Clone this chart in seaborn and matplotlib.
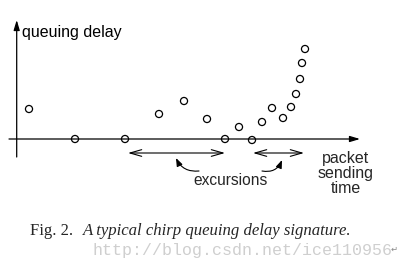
import matplotlib
matplotlib.use("Agg")
import matplotlib.pyplot as plt
import seaborn as sns
import pandas as pd

# Data (x: packet sending time, y: queuing delay) in arbitrary units
send_time = [29, 75, 125, 159, 184, 207, 225, 239, 252, 262, 272, 283, 291, 296, 300, 302, 305]
queue_delay = [30, 0, 0, 25, 38, 20, 0, 12, -1, 17, 31, 21, 32, 45, 60, 76, 90]

df = pd.DataFrame({"t": send_time, "d": queue_delay})

sns.set_theme(style="white")
plt.rcParams['font.family'] = ['Liberation Sans', 'DejaVu Sans']

fig = plt.figure(figsize=(4.05, 2.7), dpi=100)
ax = fig.add_axes([0, 0, 1, 1])
ax.set_xlim(0, 405)
ax.set_ylim(-131, 139)
ax.axis("off")

def Y(py):
    return 139 - py

# axes arrows
ax.annotate("", xy=(360, 0), xytext=(9, 0),
            arrowprops=dict(arrowstyle="-|>,head_length=0.5,head_width=0.15", color="black", lw=0.9,
                            shrinkA=0, shrinkB=0))
ax.annotate("", xy=(16.7, Y(20)), xytext=(16.7, Y(157)),
            arrowprops=dict(arrowstyle="-|>,head_length=0.5,head_width=0.15", color="black", lw=0.9,
                            shrinkA=0, shrinkB=0))

sns.scatterplot(data=df, x="t", y="d", ax=ax, marker="o", s=26,
                facecolor="none", edgecolor="black", linewidth=0.9, zorder=5)

# double arrows
ax.annotate("", xy=(225, Y(153)), xytext=(128, Y(153)),
            arrowprops=dict(arrowstyle="<->,head_length=0.7,head_width=0.2", color="black", lw=0.8,
                            shrinkA=0, shrinkB=0))
ax.annotate("", xy=(304, Y(153)), xytext=(253, Y(153)),
            arrowprops=dict(arrowstyle="<->,head_length=0.7,head_width=0.2", color="black", lw=0.8,
                            shrinkA=0, shrinkB=0))

# curved arrows
ax.annotate("", xy=(176, Y(158)), xytext=(199, Y(171)),
            arrowprops=dict(arrowstyle="-|>,head_length=0.4,head_width=0.15", color="black", lw=0.8,
                            connectionstyle="arc3,rad=-0.35", shrinkA=0, shrinkB=0))
ax.annotate("", xy=(282, Y(160)), xytext=(262, Y(171)),
            arrowprops=dict(arrowstyle="-|>,head_length=0.4,head_width=0.15", color="black", lw=0.8,
                            connectionstyle="arc3,rad=0.4", shrinkA=0, shrinkB=0))

# labels
ax.text(21.5, Y(37), "queuing delay", fontsize=11.5, ha="left", va="baseline", color="black")
ax.text(346, Y(162.5), "packet", fontsize=11.5, ha="center", va="baseline")
ax.text(346, Y(178), "sending", fontsize=11.5, ha="center", va="baseline")
ax.text(346, Y(193), "time", fontsize=11.5, ha="center", va="baseline")
ax.text(230, Y(185), "excursions", fontsize=11.2, ha="center", va="baseline")

# caption
ax.text(30, Y(235), "Fig. 2.", fontsize=12, family="Liberation Serif", ha="left", va="baseline")
ax.text(83, Y(235), "A typical chirp queuing delay signature.", fontsize=12.1,
        family="Liberation Serif", style="italic", ha="left", va="baseline")

# watermark
ax.text(92, Y(255), "http://blog.csdn.net/ice110956", fontsize=12, family="Liberation Mono",
        color="#cfcfcf", ha="left", va="baseline")
ax.text(391, Y(252), "\u21b5", fontsize=6, family="DejaVu Sans", color="#888888", ha="left", va="baseline")

fig.savefig("out.png", dpi=100)
